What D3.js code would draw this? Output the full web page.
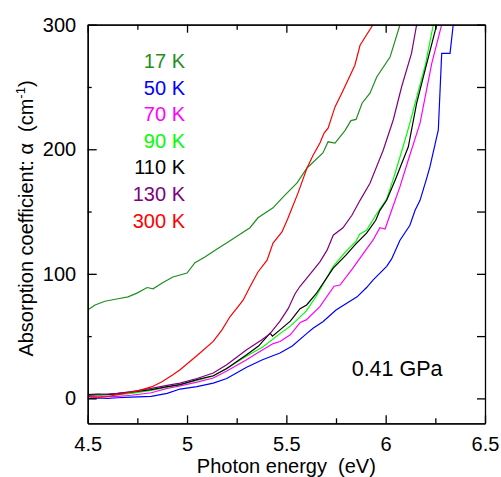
<!DOCTYPE html>
<html>
<head>
<meta charset="utf-8">
<script src="https://cdn.jsdelivr.net/npm/d3@7"></script>
<style>
body{margin:0;background:#fff;}
text{font-family:"Liberation Sans",Arial,sans-serif;}
</style>
</head>
<body>
<svg id="canvas"></svg>
<script>
// absorption spectra at 0.41 GPa, [photon energy (eV), alpha (cm^-1)]
let k17=[[4.50,71],[4.537,75],[4.587,78],[4.653,80],[4.703,81.5],[4.748,84.5],[4.799,89],[4.829,88],[4.879,93],[4.929,97.5],[5.0,100.6],[5.04,109],[5.09,113.5],[5.151,120],[5.201,125],[5.255,130.5],[5.317,137],[5.357,145],[5.433,153],[5.483,161.6],[5.554,173],[5.604,185],[5.684,197],[5.71,206],[5.745,205],[5.795,215],[5.825,223],[5.851,224],[5.881,237],[5.921,245],[5.955,258],[6.022,274],[6.072,300]];
let k50=[[4.50,0],[4.55,0.3],[4.60,0],[4.65,0.5],[4.72,1],[4.82,1.6],[4.90,4],[4.965,7.5],[5.05,9.5],[5.132,12.3],[5.20,16],[5.30,25],[5.38,31],[5.468,36.4],[5.53,42],[5.602,52],[5.636,56.5],[5.684,61.5],[5.75,71],[5.82,78],[5.856,81.5],[5.904,89],[5.936,95],[6.005,106],[6.03,112],[6.072,127],[6.122,139],[6.148,151],[6.173,159],[6.207,177],[6.223,186],[6.265,215.5],[6.282,277],[6.324,277],[6.34,300]];
let k70=[[4.50,1.4],[4.55,0.8],[4.60,1.5],[4.653,1.6],[4.72,2.5],[4.82,4.5],[4.90,8],[4.965,10],[5.05,13],[5.132,16.4],[5.20,22],[5.30,31],[5.35,36],[5.434,44],[5.468,45.7],[5.52,51],[5.57,61],[5.60,63],[5.669,73.6],[5.74,90],[5.77,91],[5.835,104.6],[5.886,116],[5.936,127],[5.971,137],[5.997,136],[6.03,151],[6.072,170],[6.113,191],[6.173,221],[6.232,269],[6.282,300]];
let k90=[[4.50,2.5],[4.55,2],[4.60,3],[4.653,3],[4.72,4],[4.82,6.5],[4.90,9],[4.965,11],[5.05,14.5],[5.132,18],[5.20,24],[5.30,34],[5.38,41],[5.468,52],[5.52,58],[5.56,64],[5.60,70],[5.65,82],[5.736,106],[5.80,118],[5.85,126],[5.87,132],[5.904,135],[5.95,147],[6.005,160],[6.04,177],[6.08,198],[6.12,220],[6.16,244],[6.20,268],[6.24,300]];
let k110=[[4.50,3],[4.55,3.5],[4.60,3],[4.653,4],[4.72,5],[4.82,7],[4.90,9.5],[4.965,11],[5.05,15],[5.132,18.2],[5.20,24],[5.30,35],[5.36,42],[5.418,52.4],[5.43,50],[5.468,55],[5.52,62],[5.569,72],[5.602,75],[5.65,84],[5.736,104.6],[5.80,115],[5.85,124],[5.904,132.6],[5.95,143],[5.971,151],[6.005,159],[6.047,175],[6.114,202],[6.156,237],[6.207,269],[6.257,300]];
let k130=[[4.50,2.5],[4.55,3],[4.60,3.5],[4.653,4],[4.72,5.5],[4.82,8],[4.90,10.5],[4.965,12.3],[5.05,16],[5.132,20.4],[5.20,27],[5.30,39],[5.377,47],[5.418,52],[5.468,62],[5.509,72],[5.544,84],[5.569,90],[5.60,96],[5.669,109.6],[5.705,119],[5.736,131],[5.785,137],[5.83,147],[5.871,159],[5.921,172.7],[5.988,199.4],[6.038,223.5],[6.08,250],[6.13,277],[6.156,300]];
let k300=[[4.50,1.5],[4.55,1],[4.60,1.5],[4.653,3],[4.703,4.5],[4.753,6],[4.824,9.4],[4.874,13.4],[4.929,19],[4.965,23],[5.055,35],[5.132,45.7],[5.176,55],[5.216,65.5],[5.257,73.6],[5.283,79],[5.317,89.6],[5.357,101.5],[5.403,111],[5.433,124.7],[5.478,133.6],[5.508,144.7],[5.559,165],[5.604,185],[5.634,195],[5.669,205],[5.69,213],[5.71,217],[5.745,234],[5.785,247],[5.845,267.5],[5.871,283.5],[5.936,300]];

let seriesList=[k17,k50,k70,k90,k110,k130,k300];
let legendLabels=["17 K","50 K","70 K","90 K","110 K","130 K","300 K"];
let colors=["#1f8f1f","#0000ff","#ff00ff","#00ff00","#000000","#800080","#ff0000"];

let xMajor=[4.5,5,5.5,6,6.5];
let xMinor=[4.75,5.25,5.75,6.25];
let yMajor=[0,100,200,300];
let yMinor=[50,150,250];

let width=501;
let height=477;
let plotLeft=87.7,plotRight=485,plotTop=24.7,plotBottom=423.3;

let xscale,yscale;

let canvas=d3.select("#canvas")
canvas.attr('width',width)
canvas.attr('height',height)

function generateScales(){
    xscale=d3.scaleLinear()
        .domain([4.5,6.5])
        .range([plotLeft,plotRight]);
    yscale=d3.scaleLinear()
        .domain([-20,300])
        .range([plotBottom,plotTop]);
}

function drawLines(){
    canvas.append('clipPath')
        .attr('id','plotclip')
        .append('rect')
        .attr('x',plotLeft)
        .attr('y',plotTop)
        .attr('width',plotRight-plotLeft)
        .attr('height',plotBottom-plotTop);
    let line=d3.line()
        .x((d)=>xscale(d[0]))
        .y((d)=>yscale(d[1]));
    canvas.append('g')
        .attr('clip-path','url(#plotclip)')
        .selectAll('path')
        .data(seriesList)
        .enter()
        .append('path')
        .attr('d',line)
        .attr('fill','none')
        .attr('stroke',(d,i)=>colors[i])
        .attr('stroke-width',1.2);
}

function styleAxis(g){
    g.selectAll('.domain').attr('stroke','#000').attr('stroke-width',1.3);
    g.selectAll('line').attr('stroke','#000').attr('stroke-width',1.3);
    g.selectAll('text').attr('font-size',20).attr('fill','#000')
        .style('font-family','"Liberation Sans",Arial,sans-serif');
}

function drawAxis(){
    // bottom
    let xAxis=d3.axisBottom(xscale).tickValues(xMajor).tickFormat(d3.format('')).tickSizeInner(-8).tickSizeOuter(0).tickPadding(13.5);
    canvas.append('g').attr('transform','translate(0,'+plotBottom+')').call(xAxis).call(styleAxis);
    canvas.append('g').attr('transform','translate(0,'+plotBottom+')')
        .call(d3.axisBottom(xscale).tickValues(xMinor).tickFormat('').tickSizeInner(-5).tickSizeOuter(0)).call(styleAxis);
    // top
    canvas.append('g').attr('transform','translate(0,'+plotTop+')')
        .call(d3.axisTop(xscale).tickValues(xMajor).tickFormat('').tickSizeInner(-8).tickSizeOuter(0)).call(styleAxis);
    canvas.append('g').attr('transform','translate(0,'+plotTop+')')
        .call(d3.axisTop(xscale).tickValues(xMinor).tickFormat('').tickSizeInner(-5).tickSizeOuter(0)).call(styleAxis);
    // left
    let yAxis=d3.axisLeft(yscale).tickValues(yMajor).tickFormat(d3.format('d')).tickSizeInner(-9).tickSizeOuter(0).tickPadding(11.5);
    canvas.append('g').attr('transform','translate('+plotLeft+',0)').call(yAxis).call(styleAxis);
    canvas.append('g').attr('transform','translate('+plotLeft+',0)')
        .call(d3.axisLeft(yscale).tickValues(yMinor).tickFormat('').tickSizeInner(-4).tickSizeOuter(0)).call(styleAxis);
    // right
    canvas.append('g').attr('transform','translate('+plotRight+',0)')
        .call(d3.axisRight(yscale).tickValues(yMajor.concat(yMinor)).tickFormat('').tickSizeInner(-8).tickSizeOuter(0)).call(styleAxis);
}

function drawText(){
    canvas.append('text')
        .attr('x',(plotLeft+plotRight)/2)
        .attr('y',473)
        .attr('text-anchor','middle')
        .attr('font-size',20)
        .style('white-space','pre')
        .text('Photon energy  (eV)');

    let yt=canvas.append('text')
        .attr('transform','translate(33,218.5) rotate(-90)')
        .attr('text-anchor','middle')
        .attr('font-size',20)
        .style('white-space','pre');
    yt.append('tspan').text('Absorption coefficient: α  (cm');
    yt.append('tspan').attr('font-size',13).attr('dy',-8).text('-1');
    yt.append('tspan').attr('dy',8).text(')');

    canvas.append('g')
        .selectAll('text')
        .data(legendLabels)
        .enter()
        .append('text')
        .attr('x',185)
        .attr('y',(d,i)=>68+i*26.6)
        .attr('text-anchor','end')
        .attr('font-size',20)
        .attr('fill',(d,i)=>colors[i])
        .text((d)=>d);

    canvas.append('text')
        .attr('x',351.7)
        .attr('y',376)
        .attr('font-size',21.5)
        .text('0.41 GPa');
}

generateScales();
drawLines();
drawAxis();
drawText();
</script>
</body>
</html>
